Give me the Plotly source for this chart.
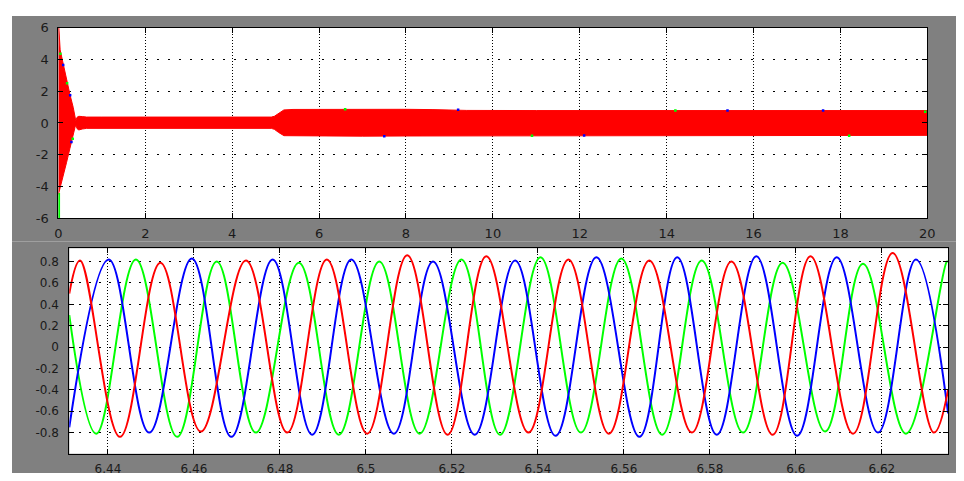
import plotly.graph_objects as go

# ---------------- top panel: envelope of the 3-phase signal, 0..20 s ----------------
env_t = [0, 0.01, 0.04, 0.053, 0.114, 0.189, 0.265, 0.34, 0.38, 0.40, 0.43, 0.47, 0.55, 0.65,
         1.0, 2.0, 3.0, 4.0, 4.9, 4.97, 5.07, 5.19, 5.4, 6.0, 7.0, 8.0, 8.6, 9.4, 11.0, 13.0,
         15.0, 17.0, 19.0, 20.0]
env_up = [6.0, 6.0, 4.6, 4.43, 3.62, 2.6, 1.8, 0.99, 0.30, 0.14, 0.36, 0.42, 0.40, 0.37,
          0.37, 0.36, 0.37, 0.37, 0.37, 0.42, 0.62, 0.82, 0.85, 0.86, 0.86, 0.86, 0.84, 0.79,
          0.78, 0.78, 0.78, 0.78, 0.78, 0.78]
env_lo = [-4.5, -4.45, -4.1, -3.95, -3.27, -2.47, -1.6, -0.7, -0.3, -0.12, -0.36, -0.44, -0.38,
          -0.34, -0.34, -0.33, -0.34, -0.34, -0.34, -0.40, -0.60, -0.80, -0.82, -0.83, -0.83,
          -0.82, -0.82, -0.79, -0.78, -0.78, -0.78, -0.78, -0.78, -0.78]

green_spike_t = [0.015, 0.015]
green_spike_v = [-6.0, -4.4]
green_speck_t = [0.045, 0.20, 0.33, 6.6, 10.9, 14.2, 18.2, 19.95]
green_speck_v = [4.35, 2.5, -1.0, 0.86, -0.80, 0.79, -0.80, 0.70]
blue_speck_t = [0.11, 0.27, 0.30, 7.5, 9.2, 12.1, 15.4, 17.6]
blue_speck_v = [3.65, 1.75, -1.2, -0.83, 0.83, -0.79, 0.79, 0.79]

top_xticks = [0, 2, 4, 6, 8, 10, 12, 14, 16, 18, 20]
top_xtext = ["0", "2", "4", "6", "8", "10", "12", "14", "16", "18", "20"]
top_yticks = [-6, -4, -2, 0, 2, 4, 6]
top_ytext = ["-6", "-4", "-2", "0", "2", "4", "6"]

# ---------------- bottom panel: zoom 6.431 .. 6.635 s (extrema) ----------------
red_t = [6.431, 6.4335, 6.4428, 6.4522, 6.4616, 6.4721, 6.4817, 6.4909, 6.5003, 6.5096, 6.5190,
         6.5280, 6.5378, 6.5471, 6.5565, 6.5659, 6.5758, 6.5850, 6.5946, 6.6034, 6.6133, 6.6225,
         6.6321, 6.6354]
red_v = [0.50, 0.81, -0.84, 0.79, -0.79, 0.81, -0.80, 0.82, -0.81, 0.86, -0.82,
         0.85, -0.80, 0.82, -0.81, 0.81, -0.80, 0.80, -0.82, 0.85, -0.81, 0.88,
         -0.80, -0.40]

blue_t = [6.431, 6.4402, 6.4496, 6.4595, 6.4687, 6.4783, 6.4875, 6.4966, 6.5065, 6.5156, 6.5253,
          6.5347, 6.5441, 6.5536, 6.5636, 6.5724, 6.5816, 6.5908, 6.6003, 6.6095, 6.6191, 6.6279,
          6.6354]
blue_v = [-0.75, 0.82, -0.80, 0.83, -0.84, 0.82, -0.82, 0.82, -0.81, 0.80, -0.82,
          0.81, -0.83, 0.84, -0.84, 0.84, -0.82, 0.85, -0.83, 0.84, -0.80, 0.82,
          -0.62]

green_t = [6.431, 6.4373, 6.4465, 6.4561, 6.4653, 6.4744, 6.4844, 6.4937, 6.5031, 6.5125, 6.5222,
           6.5312, 6.5406, 6.5500, 6.5594, 6.5689, 6.5781, 6.5877, 6.5969, 6.6068, 6.6156, 6.6256,
           6.6351, 6.6354]
green_v = [0.30, -0.81, 0.82, -0.84, 0.80, -0.80, 0.79, -0.82, 0.80, -0.81, 0.82,
           -0.82, 0.84, -0.80, 0.83, -0.82, 0.81, -0.80, 0.79, -0.79, 0.78, -0.81,
           0.80, 0.80]

bot_xticks = [6.44, 6.46, 6.48, 6.50, 6.52, 6.54, 6.56, 6.58, 6.60, 6.62]
bot_xtext = ["6.44", "6.46", "6.48", "6.5", "6.52", "6.54", "6.56", "6.58", "6.6", "6.62"]
bot_yticks = [-0.8, -0.6, -0.4, -0.2, 0, 0.2, 0.4, 0.6, 0.8]
bot_ytext = ["-0.8", "-0.6", "-0.4", "-0.2", "0", "0.2", "0.4", "0.6", "0.8"]

# the page body keeps its 8 px browser margin, so the figure is 8 px smaller
OFF = 8
W, H = 964 - OFF, 481 - OFF
RED, BLUE, GREEN = "#ff0000", "#0000ff", "#00ff00"
GRAY = "#808080"


def fx(x):
    return max(0.0, min(1.0, (x - OFF) / W))


def fy(y):
    return max(0.0, min(1.0, 1 - (y - OFF) / H))


def px(x0, x1):
    return [fx(x0), fx(x1)]


def py(y_top, y_bot):
    return [fy(y_bot), fy(y_top)]


fig = go.Figure()

# top envelope band
fig.add_trace(go.Scatter(
    x=env_t + env_t[::-1], y=env_up + env_lo[::-1], fill="toself",
    fillcolor=RED, line=dict(color=RED, width=1), mode="lines",
    xaxis="x", yaxis="y", hoverinfo="skip", showlegend=False))
fig.add_trace(go.Scatter(x=green_spike_t, y=green_spike_v, mode="lines",
                         line=dict(color=GREEN, width=2), xaxis="x", yaxis="y",
                         showlegend=False))
fig.add_trace(go.Scatter(x=green_speck_t, y=green_speck_v, mode="markers",
                         marker=dict(color=GREEN, size=2.5, symbol="square"),
                         xaxis="x", yaxis="y", showlegend=False))
fig.add_trace(go.Scatter(x=blue_speck_t, y=blue_speck_v, mode="markers",
                         marker=dict(color=BLUE, size=2.5, symbol="square"),
                         xaxis="x", yaxis="y", showlegend=False))

# bottom waveforms
for t, v, c in [(green_t, green_v, GREEN), (blue_t, blue_v, BLUE), (red_t, red_v, RED)]:
    fig.add_trace(go.Scatter(x=t, y=v, mode="lines",
                             line=dict(color=c, width=2, shape="spline", smoothing=1.1),
                             xaxis="x2", yaxis="y2", showlegend=False))

tickfont_top = dict(family="DejaVu Sans", size=13, color="#1a1a1a")
tickfont_bot = dict(family="DejaVu Sans", size=12, color="#1a1a1a")

common = dict(showline=True, linecolor="black", linewidth=1, mirror="allticks",
              ticks="inside", ticklen=5, tickcolor="black", showgrid=True,
              gridcolor="black", gridwidth=1, zeroline=False, tickmode="array")

fig.update_layout(
    width=W, height=H, autosize=False,
    margin=dict(l=0, r=0, t=0, b=0),
    paper_bgcolor="white", plot_bgcolor="rgba(0,0,0,0)",
    xaxis=dict(domain=px(55, 935), range=[0, 20], tickvals=top_xticks, ticktext=top_xtext,
               tickfont=tickfont_top, griddash="1px,2px", ticklabelstandoff=3,
               anchor="y", **common),
    yaxis=dict(domain=py(21, 218), range=[-6, 6], tickvals=top_yticks, ticktext=top_ytext,
               tickfont=tickfont_top, griddash="2px,9px", ticklabelstandoff=6,
               anchor="x", **common),
    xaxis2=dict(domain=px(66, 956), range=[6.431, 6.6354], tickvals=bot_xticks,
                ticktext=bot_xtext, tickfont=tickfont_bot, griddash="1px,2px",
                ticklabelstandoff=4, anchor="y2", **common),
    yaxis2=dict(domain=py(249, 461), range=[-0.997, 0.924], tickvals=bot_yticks,
                ticktext=bot_ytext, tickfont=tickfont_bot, griddash="2px,8px",
                ticklabelstandoff=7, anchor="x2", **common),
    shapes=[
        dict(type="rect", xref="paper", yref="paper", x0=fx(6), x1=1, y0=fy(242),
             y1=fy(9), fillcolor=GRAY, line=dict(width=0), layer="below"),
        dict(type="rect", xref="paper", yref="paper", x0=fx(8), x1=1, y0=0,
             y1=fy(242), fillcolor=GRAY, line=dict(width=0), layer="below"),
        dict(type="rect", xref="paper", yref="paper", x0=fx(55), x1=fx(935),
             y0=fy(218), y1=fy(21), fillcolor="white", line=dict(width=0),
             layer="below"),
        dict(type="rect", xref="paper", yref="paper", x0=fx(66), x1=fx(956),
             y0=fy(461), y1=fy(249), fillcolor="white", line=dict(width=0),
             layer="below"),
    ],
)

fig.write_html("out.html", config={"displayModeBar": False})
